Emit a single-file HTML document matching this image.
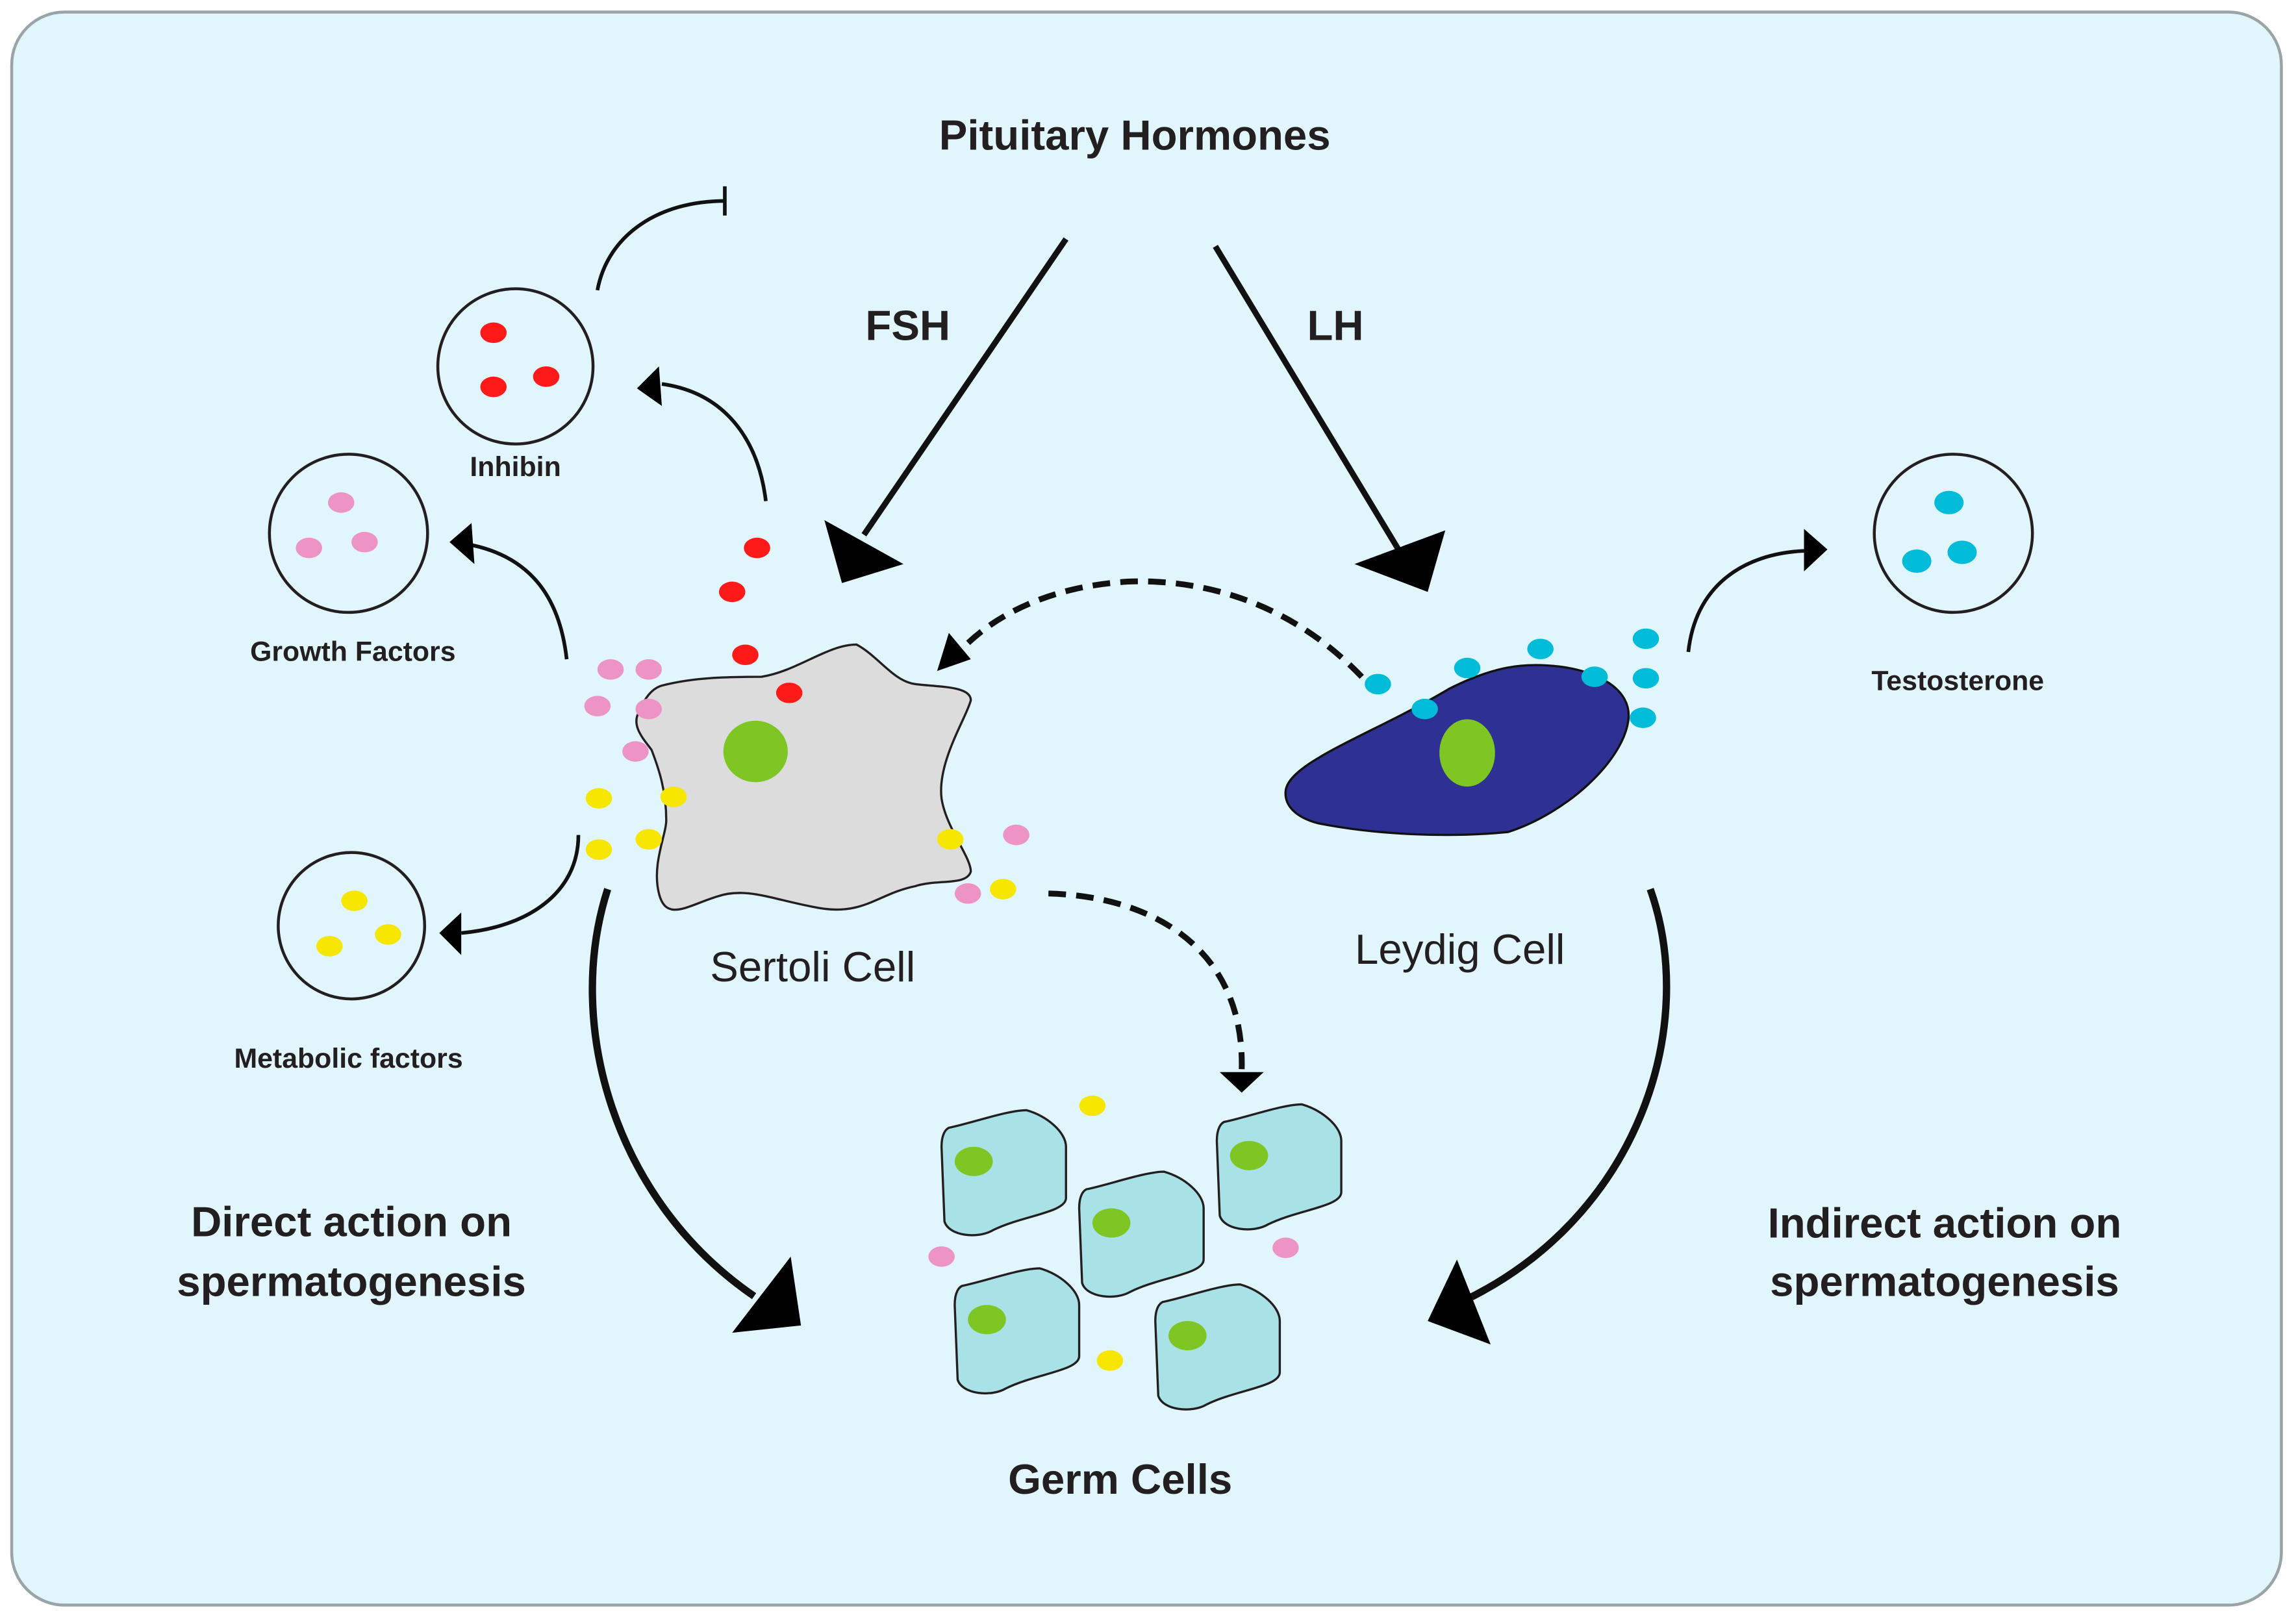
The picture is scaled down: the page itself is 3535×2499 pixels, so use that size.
<!DOCTYPE html>
<html><head><meta charset="utf-8"><style>
html,body{margin:0;padding:0;background:#fff}
svg{display:block}
text{font-family:"Liberation Sans","DejaVu Sans",sans-serif;fill:#231f20}
.b{font-weight:bold}
</style></head><body>
<svg width="3535" height="2499" viewBox="0 0 1568 1108" xmlns="http://www.w3.org/2000/svg">
<defs>
<path id="gc" d="M5,12 C20,9 45,0 58,0 C72,4 85,15 85,25 L85,60 C85,70 55,72 35,82 C25,88 5,86 2,76 L0,25 C0,16 3,13 5,12 Z" fill="#a8e2e6" stroke="#231f20" stroke-width="1.5"/>
</defs>
<rect x="8" y="8" width="1550" height="1088" rx="36" fill="#e1f5fc" stroke="#9aa4a8" stroke-width="2"/>
<text x="775" y="102" text-anchor="middle" class="b" font-size="29">Pituitary Hormones</text>
<text x="620" y="232" text-anchor="middle" class="b" font-size="29">FSH</text>
<text x="912" y="232" text-anchor="middle" class="b" font-size="29">LH</text>
<g stroke="#111" stroke-width="4" fill="none">
<line x1="728" y1="163" x2="590" y2="365"/>
<line x1="830" y1="168" x2="955" y2="375"/>
</g>
<polygon points="563,355 617,385 575,398" fill="#000"/>
<polygon points="925,385 987,362 975,404" fill="#000"/>
<g fill="none" stroke="#231f20" stroke-width="2">
<circle cx="352" cy="250" r="53"/>
<circle cx="238" cy="364" r="54"/>
<circle cx="240" cy="632" r="50"/>
<circle cx="1334" cy="364" r="54"/>
</g>
<g fill="#ff1a1a"><ellipse cx="337" cy="227" rx="9" ry="7"/><ellipse cx="373" cy="257" rx="9" ry="7"/><ellipse cx="337" cy="264" rx="9" ry="7"/>
<ellipse cx="517" cy="374" rx="9" ry="7"/><ellipse cx="500" cy="404" rx="9" ry="7"/><ellipse cx="509" cy="447" rx="9" ry="7"/></g>
<g fill="#ec94c5"><ellipse cx="233" cy="343" rx="9" ry="7"/><ellipse cx="249" cy="370" rx="9" ry="7"/><ellipse cx="211" cy="374" rx="9" ry="7"/></g>
<g fill="#f6e600"><ellipse cx="242" cy="615" rx="9" ry="7"/><ellipse cx="265" cy="638" rx="9" ry="7"/><ellipse cx="225" cy="646" rx="9" ry="7"/></g>
<g fill="#00bcd9"><ellipse cx="1331" cy="343" rx="10" ry="8"/><ellipse cx="1309" cy="383" rx="10" ry="8"/><ellipse cx="1340" cy="377" rx="10" ry="8"/></g>
<text x="352" y="325" text-anchor="middle" class="b" font-size="19">Inhibin</text>
<text x="241" y="451" text-anchor="middle" class="b" font-size="19">Growth Factors</text>
<text x="238" y="729" text-anchor="middle" class="b" font-size="19">Metabolic factors</text>
<text x="1337" y="471" text-anchor="middle" class="b" font-size="19">Testosterone</text>
<g stroke="#111" stroke-width="2.5" fill="none">
<path d="M408,198 C415,160 450,137 495,137"/>
<line x1="495" y1="127" x2="495" y2="147"/>
<path d="M523,342 C518,300 495,268 452,262"/>
<path d="M387,450 C382,405 360,380 322,372"/>
<path d="M395,570 C395,610 360,633 315,637"/>
<path d="M1153,445 C1158,400 1190,378 1232,376"/>
</g>
<polygon points="435,265 450,250 452,277" fill="#000"/>
<polygon points="307,370 322,357 324,385" fill="#000"/>
<polygon points="300,637 315,623 315,652" fill="#000"/>
<polygon points="1248,375 1232,361 1232,390" fill="#000"/>
<path d="M452,468 C475,462 500,462 520,462 C545,458 565,440 585,440 C600,448 610,465 625,467 C640,469 663,468 663,478 C660,490 640,520 643,545 C646,565 663,585 663,595 C660,605 640,600 625,605 C600,610 590,625 560,620 C530,615 510,605 490,612 C470,618 455,630 450,610 C445,590 455,570 455,560 C455,540 450,525 445,512 C440,505 430,495 437,485 C440,477 445,470 452,468 Z" fill="#dcdcdc" stroke="#231f20" stroke-width="1.5"/>
<ellipse cx="516" cy="513" rx="22" ry="21" fill="#7ec623"/>
<ellipse cx="539" cy="473" rx="9" ry="7" fill="#ff1a1a"/>
<g fill="#ec94c5"><ellipse cx="417" cy="457" rx="9" ry="7"/><ellipse cx="443" cy="457" rx="9" ry="7"/><ellipse cx="408" cy="482" rx="9" ry="7"/><ellipse cx="443" cy="484" rx="9" ry="7"/><ellipse cx="434" cy="513" rx="9" ry="7"/><ellipse cx="694" cy="570" rx="9" ry="7"/><ellipse cx="661" cy="610" rx="9" ry="7"/><ellipse cx="643" cy="858" rx="9" ry="7"/><ellipse cx="878" cy="852" rx="9" ry="7"/></g>
<g fill="#f6e600"><ellipse cx="409" cy="545" rx="9" ry="7"/><ellipse cx="460" cy="544" rx="9" ry="7"/><ellipse cx="409" cy="580" rx="9" ry="7"/><ellipse cx="443" cy="573" rx="9" ry="7"/><ellipse cx="649" cy="573" rx="9" ry="7"/><ellipse cx="685" cy="607" rx="9" ry="7"/><ellipse cx="746" cy="755" rx="9" ry="7"/><ellipse cx="758" cy="929" rx="9" ry="7"/></g>
<text x="555" y="670" text-anchor="middle" font-size="29">Sertoli Cell</text>
<path d="M878,540 C880,520 940,500 990,470 C1020,455 1040,452 1065,455 C1090,458 1115,470 1112,492 C1108,520 1070,555 1030,568 C990,572 940,570 900,562 C885,558 877,550 878,540 Z" fill="#2e3192" stroke="#111" stroke-width="1.5"/>
<ellipse cx="1002" cy="514" rx="19" ry="23" fill="#7ec623"/>
<g fill="#00bcd9"><ellipse cx="941" cy="467" rx="9" ry="7"/><ellipse cx="973" cy="484" rx="9" ry="7"/><ellipse cx="1002" cy="456" rx="9" ry="7"/><ellipse cx="1052" cy="443" rx="9" ry="7"/><ellipse cx="1089" cy="462" rx="9" ry="7"/><ellipse cx="1124" cy="436" rx="9" ry="7"/><ellipse cx="1124" cy="463" rx="9" ry="7"/><ellipse cx="1122" cy="490" rx="9" ry="7"/></g>
<text x="997" y="658" text-anchor="middle" font-size="29">Leydig Cell</text>
<g stroke="#111" stroke-width="4" fill="none" stroke-dasharray="12,7">
<path d="M930,462 C880,410 820,395 770,397 C720,400 680,418 655,445"/>
<path d="M716,610 C790,612 850,650 848,730"/>
</g>
<polygon points="640,458 648,432 663,450" fill="#000"/>
<polygon points="833,732 863,732 848,746" fill="#000"/>
<g stroke="#111" stroke-width="5" fill="none">
<path d="M415,607 C385,700 420,820 515,885"/>
<path d="M1127,607 C1160,700 1120,830 1000,888"/>
</g>
<polygon points="500,910 547,905 540,858" fill="#000"/>
<polygon points="975,902 1018,918 995,860" fill="#000"/>
<text x="240" y="844" text-anchor="middle" class="b" font-size="29">Direct action on</text>
<text x="240" y="885" text-anchor="middle" class="b" font-size="29">spermatogenesis</text>
<text x="1328" y="845" text-anchor="middle" class="b" font-size="29">Indirect action on</text>
<text x="1328" y="885" text-anchor="middle" class="b" font-size="29">spermatogenesis</text>
<g fill="#7ec623">
<g transform="translate(643,758)"><use href="#gc"/><ellipse cx="22" cy="35" rx="13" ry="10"/></g>
<g transform="translate(737,800)"><use href="#gc"/><ellipse cx="22" cy="35" rx="13" ry="10"/></g>
<g transform="translate(831,754)"><use href="#gc"/><ellipse cx="22" cy="35" rx="13" ry="10"/></g>
<g transform="translate(652,866)"><use href="#gc"/><ellipse cx="22" cy="35" rx="13" ry="10"/></g>
<g transform="translate(789,877)"><use href="#gc"/><ellipse cx="22" cy="35" rx="13" ry="10"/></g>
</g>
<text x="765" y="1020" text-anchor="middle" class="b" font-size="29">Germ Cells</text>
</svg>
</body></html>
